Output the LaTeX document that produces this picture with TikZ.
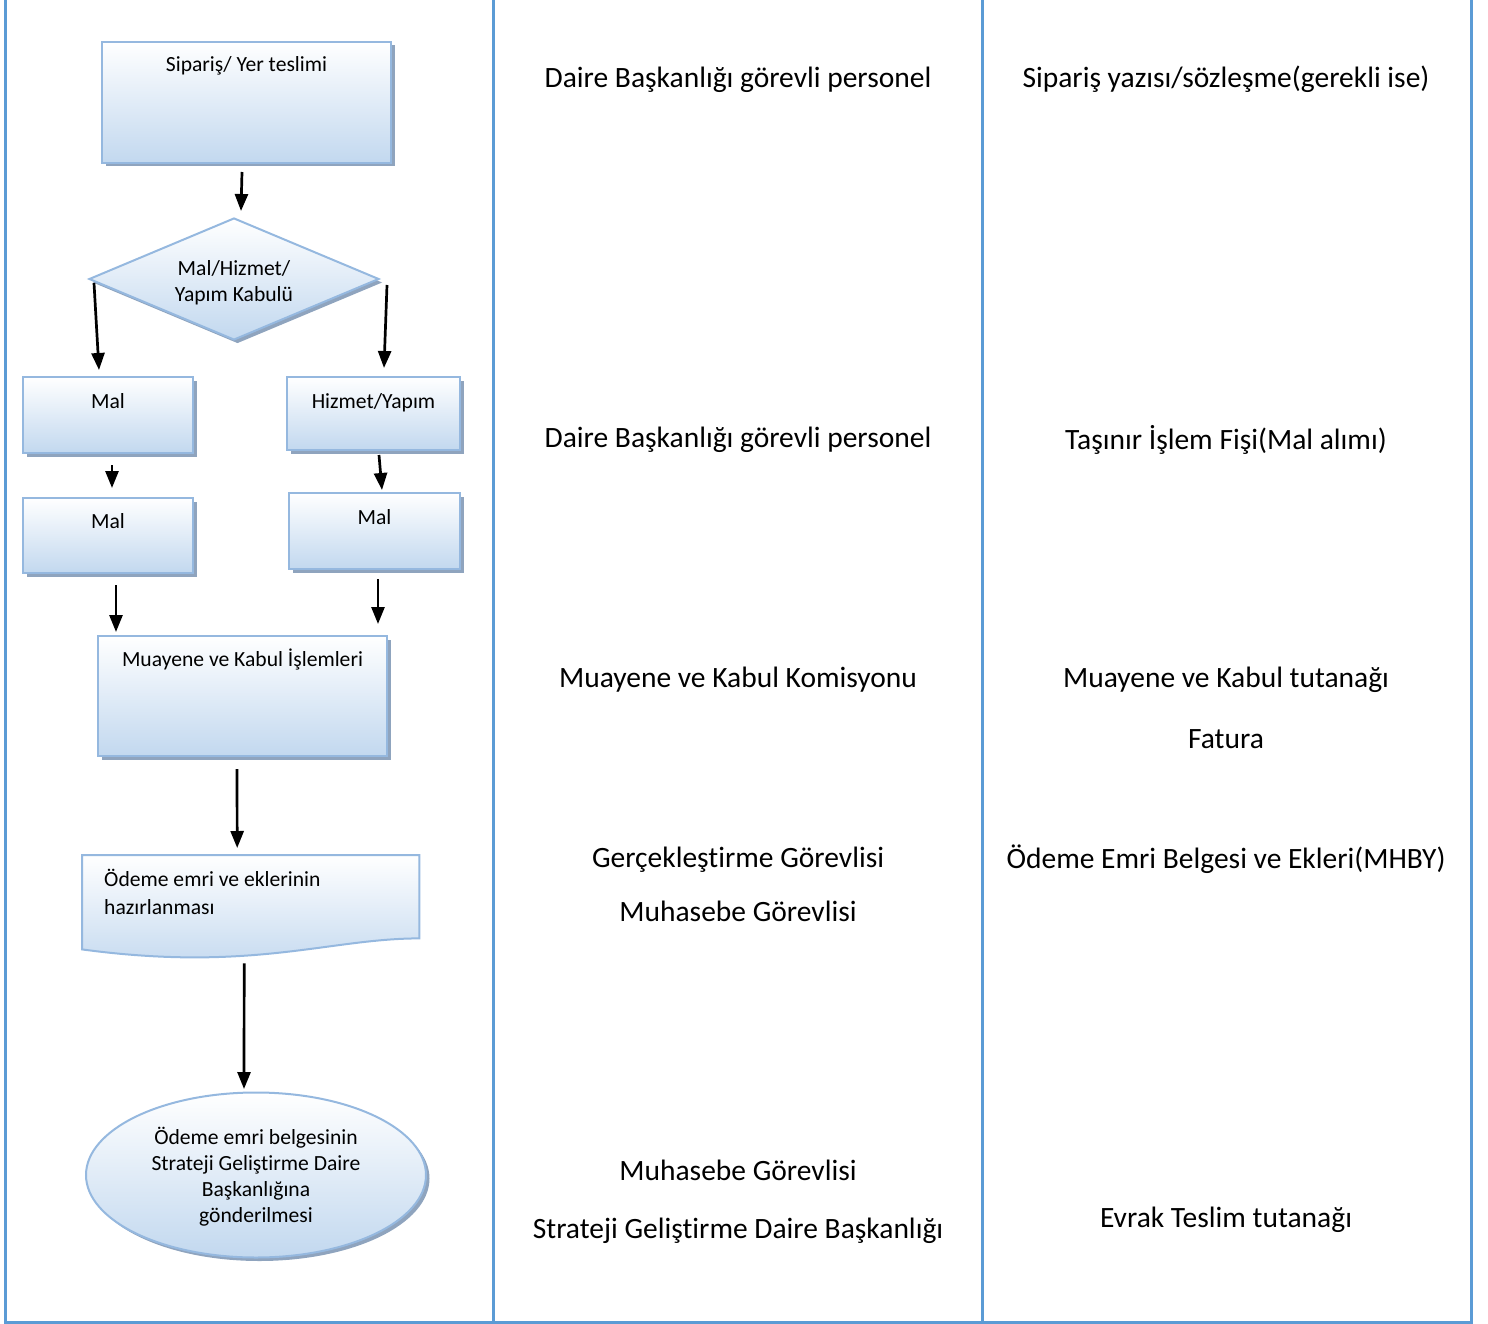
\documentclass[tikz,border=0pt]{standalone}
\usepackage{fontspec}
\setmainfont{Carlito}[Ligatures=NoCommon]
\usetikzlibrary{arrows.meta,shapes.geometric,shadows,calc}
\definecolor{colline}{HTML}{5B9BD5}
\definecolor{bord}{HTML}{95B8DF}
\definecolor{fillb}{HTML}{C2D8EF}
\definecolor{shcol}{HTML}{8FA4BE}
\newcommand{\lowtext}[2]{\raisebox{-#1}[\height][\depth]{\begin{tabular}{@{}c@{}}#2\end{tabular}}}
\begin{document}
\begin{tikzpicture}[x=1pt,y=-1pt,
 boxfont/.style={font=\fontsize{21.6}{26}\selectfont},
 colfont/.style={font=\fontsize{29.5}{35}\selectfont},
 flow/.style={boxfont, draw=bord, line width=2pt, top color=white, bottom color=fillb,
   drop shadow={shadow xshift=3.5pt,shadow yshift=-3.5pt,fill=shcol,opacity=1}},
 procbox/.style={flow, rectangle, anchor=north west, inner xsep=4pt, inner ysep=0pt, text height=#1},
 docnode/.style={font=\fontsize{21.6}{28}\selectfont, anchor=north west, inner xsep=22pt, inner ysep=0pt,
   text width=293pt, align=flush left, text height=31pt, text depth=52pt},
 docshape/.style={draw=bord, line width=2pt, top color=white, bottom color=fillb},
 arr/.style={-{Triangle[length=17pt,width=13pt]}, line width=2.7pt, black},
 coltext/.style={colfont, inner sep=0pt},
 sepline/.style={colline, line width=3pt}]
\useasboundingbox (0,0) rectangle (1488,1324);
% column lines
\draw[sepline] (5,0) -- (5,1322) -- (1471,1322) -- (1471,0);
\draw[sepline] (493,0) -- (493,1322);
\draw[sepline] (982,0) -- (982,1322);
% flow nodes
\node[procbox=30pt, text depth=91pt, minimum width=289pt] (top) at (101,41) {Sipariş/ Yer teslimi};
\node[flow, diamond, aspect=2.4, minimum width=290pt, minimum height=122pt, inner sep=0pt, align=center] (dia) at (234,279) {\lowtext{4pt}{Mal/Hizmet/\\Yapım Kabulü}};
\node[procbox=31pt, text depth=45pt, minimum width=170pt] (mal1) at (22,376) {Mal};
\node[procbox=31pt, text depth=42pt, minimum width=173pt] (hiz) at (286,376) {Hizmet/Yapım};
\node[procbox=30pt, text depth=45pt, minimum width=170pt] (mal2) at (22,497) {Mal};
\node[procbox=31pt, text depth=45pt, minimum width=171pt] (malr) at (288,492) {Mal};
\node[procbox=30pt, text depth=90pt, minimum width=289pt] (mua) at (97,635) {Muayene ve Kabul İşlemleri};
% document shape
\node[docnode] (doc) at (82,855) {Ödeme emri ve eklerinin\\hazırlanması};
\begin{scope}[shift={(3.5,3.5)}]
\fill[shcol] (doc.north west) -- (doc.north east) -- (doc.south east)
  .. controls ($(doc.south east)+(-90,0)$) and ($(doc.south west)+(170,34)$) .. ($(doc.south west)+(0,11)$) -- cycle;
\end{scope}
\path[docshape] (doc.north west) -- (doc.north east) -- (doc.south east)
  .. controls ($(doc.south east)+(-90,0)$) and ($(doc.south west)+(170,34)$) .. ($(doc.south west)+(0,11)$) -- cycle;
\node[docnode] at (doc.north west) {Ödeme emri ve eklerinin\\hazırlanması};
\node[flow, ellipse, minimum width=340pt, minimum height=165pt, inner sep=0pt, align=center] (ell) at (256,1175) {\lowtext{3pt}{Ödeme emri belgesinin\\Strateji Geliştirme Daire\\Başkanlığına\\gönderilmesi}};
% arrows
\draw[arr] ($(top.south)+(-4.5,8)$) -- ($(dia.north)+(7,-6)$);
\draw[arr] ($(dia.west)+(6,4)$) -- ($(mal1.north)+(-9,-6)$);
\draw[arr] ($(dia.east)+(7,6)$) -- ($(hiz.north)+(10.5,-8)$);
\draw[arr] ($(mal1.south)+(4,11)$) -- ($(mal2.north)+(4,-9)$);
\draw[arr] ($(hiz.south)+(5.5,4)$) -- ($(malr.north)+(7.5,-2)$);
\draw[arr] ($(mal2.south)+(8,11)$) -- ($(mua.north west)+(19,-3)$);
\draw[arr] ($(malr.south)+(3.5,9)$) -- ($(mua.north east)+(-10,-11)$);
\draw[arr] ($(mua.south)+(-5.5,12)$) -- ($(doc.north)+(-13.5,-7)$);
\draw[arr] ($(doc.south)+(-6.5,25)$) -- ($(ell.north)+(-12,-2.5)$);
% right columns
\node[coltext] (r1a) at (738,79.5) {Daire Başkanlığı görevli personel};
\node[coltext] (r1b) at (1226,79.5) {Sipariş yazısı/sözleşme(gerekli ise)};
\node[coltext] (r2a) at (738,439.5) {Daire Başkanlığı görevli personel};
\node[coltext] (r2b) at (1226,439.5) {Taşınır İşlem Fişi(Mal alımı)};
\node[coltext] (r3a) at (738,679.5) {Muayene ve Kabul Komisyonu};
\node[coltext] (r3b) at (1226,679.5) {Muayene ve Kabul tutanağı};
\node[coltext] (r3c) at (1226,739) {Fatura};
\node[coltext] (r4a) at (738,859.5) {Gerçekleştirme Görevlisi};
\node[coltext] (r4b) at (738,911) {Muhasebe Görevlisi};
\node[coltext] (r4c) at (1226,859.5) {Ödeme Emri Belgesi ve Ekleri(MHBY)};
\node[coltext] (r5a) at (738,1170.5) {Muhasebe Görevlisi};
\node[coltext] (r5b) at (738,1230.5) {Strateji Geliştirme Daire Başkanlığı};
\node[coltext] (r5c) at (1226,1219.5) {Evrak Teslim tutanağı};
\end{tikzpicture}
\end{document}
